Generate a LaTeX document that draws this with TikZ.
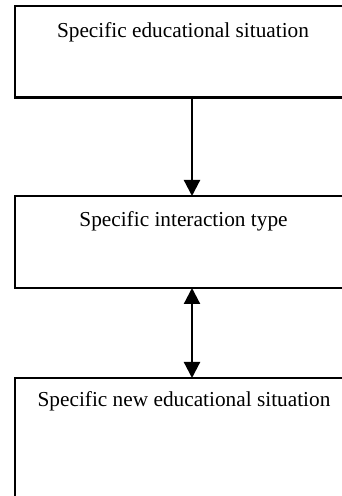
\documentclass[tikz,border=0pt]{standalone}
\usepackage{fontspec}
\setmainfont{Liberation Serif}
\usetikzlibrary{arrows.meta}
\begin{document}
\begin{tikzpicture}[x=1pt,y=1pt,
  boxnode/.style={draw=black,line width=2.2pt,minimum width=354pt,inner sep=0pt,outer sep=0pt},
  label/.style={anchor=base,inner sep=0pt,font=\fontsize{21.3}{25}\selectfont},
  conn/.style={line width=2.2pt,-{Triangle[width=16pt,length=16pt]}},
  conn2/.style={line width=2.2pt,{Triangle[width=16pt,length=16pt]}-{Triangle[width=16pt,length=16pt]}}]
\useasboundingbox (0,0) rectangle (342,496);
\clip (0,0) rectangle (342,496);
% boxes (y measured from bottom: 496 - pixel)
\node[boxnode,minimum height=91.5pt] (b1) at (192,444.25) {};
\node[boxnode,minimum height=92pt] (b2) at (192,254) {};
\node[boxnode,minimum height=150pt] (b3) at (192,43) {};
\node[label] (t1) at (183,458.7) {Specific educational situation};
\node[label] (t2) at (183.5,269) {Specific interaction type};
\node[label] (t3) at (184,89.3) {Specific new educational situation};
\draw[conn] (b1.south) -- (b2.north);
\draw[conn2] (b2.south) -- (b3.north);
\end{tikzpicture}
\end{document}
